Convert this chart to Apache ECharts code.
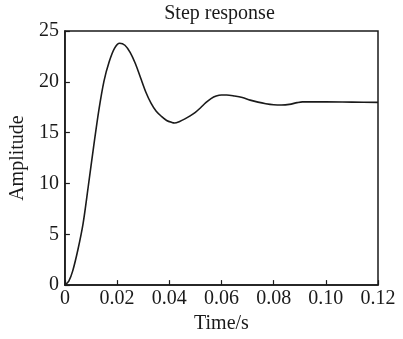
<!DOCTYPE html>
<html>
<head>
<meta charset="utf-8">
<script src="https://cdn.jsdelivr.net/npm/echarts@6/dist/echarts.min.js"></script>
<style>
html,body{margin:0;padding:0;background:#fff;}
#c{width:403px;height:339px;}
</style>
</head>
<body>
<div id="c"></div>
<script>
var titleText = "Step response";
var xName = "Time/s";
var yName = "Amplitude";
var xTickLabels = ["0", "0.02", "0.04", "0.06", "0.08", "0.10", "0.12"];
var yTickLabels = ["0", "5", "10", "15", "20", "25"];
var times = [0, 0.0015, 0.003, 0.005, 0.007, 0.009, 0.011, 0.013, 0.015, 0.017, 0.019, 0.021, 0.023, 0.025, 0.027, 0.029, 0.031, 0.033, 0.035, 0.037, 0.039, 0.041, 0.042, 0.044, 0.046, 0.048, 0.050, 0.052, 0.054, 0.056, 0.058, 0.060, 0.062, 0.065, 0.068, 0.071, 0.074, 0.077, 0.080, 0.083, 0.086, 0.089, 0.091, 0.095, 0.100, 0.110, 0.120];
var amplitude = [0, 0.4, 1.4, 3.5, 6.1, 9.8, 13.6, 17.2, 20.1, 22.0, 23.3, 23.8, 23.6, 22.9, 21.8, 20.4, 19.0, 17.9, 17.1, 16.6, 16.2, 16.0, 15.95, 16.1, 16.35, 16.65, 17.0, 17.45, 17.95, 18.35, 18.6, 18.7, 18.7, 18.6, 18.45, 18.2, 18.0, 17.85, 17.75, 17.72, 17.78, 17.95, 18.03, 18.03, 18.03, 18.0, 17.98];

var pts = times.map(function (t, i) { return [t, amplitude[i]]; });
var font = '"Liberation Serif", "Times New Roman", serif';
var ink = '#1a1a1a';

var chart = echarts.init(document.getElementById('c'));
chart.setOption({
  animation: false,
  backgroundColor: '#fff',
  graphic: [{
    type: 'text',
    style: { text: titleText, x: 219.5, y: 14, align: 'center', verticalAlign: 'middle', fontFamily: font, fontSize: 20, fill: ink }
  }],
  grid: { left: 61, right: 25, top: 31, bottom: 45, show: true, borderColor: ink, borderWidth: 1.5, backgroundColor: 'transparent' },
  xAxis: {
    type: 'value', min: 0, max: 0.12, interval: 0.02,
    name: xName, nameLocation: 'middle', nameGap: 26,
    nameTextStyle: { fontFamily: font, fontSize: 20, color: ink },
    axisLine: { show: true, lineStyle: { color: ink, width: 1.5 } },
    axisTick: { show: true, inside: true, length: 5, lineStyle: { color: ink, width: 1.2 } },
    axisLabel: { fontFamily: font, fontSize: 20, color: ink, margin: 4,
      formatter: function (v) { return xTickLabels[Math.round(v / 0.02)]; } },
    splitLine: { show: false }
  },
  yAxis: {
    type: 'value', min: 0, max: 25, interval: 5,
    name: yName, nameLocation: 'middle', nameGap: 29, nameRotate: 90,
    nameTextStyle: { fontFamily: font, fontSize: 20, color: ink },
    axisLine: { show: true, lineStyle: { color: ink, width: 1.5 } },
    axisTick: { show: true, inside: true, length: 5, lineStyle: { color: ink, width: 1.2 } },
    axisLabel: { fontFamily: font, fontSize: 20, color: ink, margin: 6, padding: [2, 0, 0, 0],
      formatter: function (v) { return yTickLabels[Math.round(v / 5)]; } },
    splitLine: { show: false }
  },
  series: [{
    type: 'line', data: pts, showSymbol: false, smooth: 0.3,
    lineStyle: { color: ink, width: 1.6 }
  }]
});
</script>
</body>
</html>
